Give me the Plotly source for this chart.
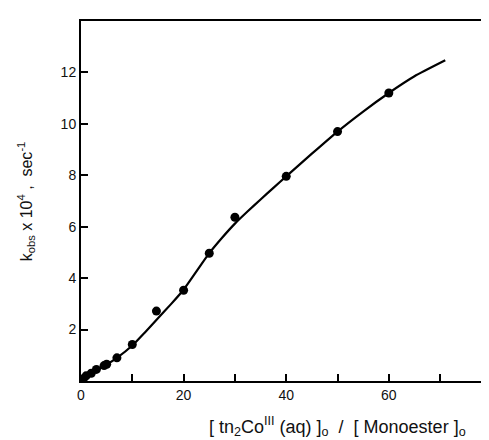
import plotly.graph_objects as go

# Measured points
pt_x = [0.5, 1, 2, 3, 4.5, 5, 7, 10, 14.7, 20, 25, 30, 40, 50, 60]
pt_y = [0.1, 0.2, 0.3, 0.45, 0.6, 0.65, 0.9, 1.42, 2.72, 3.53, 4.97, 6.37, 7.96, 9.7, 11.2]

# Fitted curve
cv_x = [0, 1, 2, 3, 5, 7, 10, 12.5, 15, 17.5, 20, 22.5, 25, 27.5, 30, 32.5, 35, 37.5, 40, 45, 50, 55, 60, 65, 71]
cv_y = [0, 0.17, 0.3, 0.42, 0.64, 0.9, 1.38, 1.9, 2.44, 2.98, 3.55, 4.26, 4.97, 5.57, 6.12, 6.6, 7.06, 7.51, 7.96, 8.84, 9.7, 10.48, 11.2, 11.85, 12.47]

x_tickvals = [0, 10, 20, 30, 40, 50, 60, 70]
x_ticktext = ["0", "", "20", "", "40", "", "60", ""]
y_tickvals = [2, 4, 6, 8, 10, 12]
y_ticktext = ["2", "4", "6", "8", "10", "12"]

fig = go.Figure()
fig.add_trace(go.Scatter(x=cv_x, y=cv_y, mode="lines",
                         line=dict(color="black", width=2.2, shape="spline", smoothing=0.5),
                         hoverinfo="skip", showlegend=False))
fig.add_trace(go.Scatter(x=pt_x, y=pt_y, mode="markers",
                         marker=dict(color="black", size=9),
                         showlegend=False))

font = dict(family="Liberation Sans, Arial, sans-serif", color="#111", size=14)

fig.update_layout(
    width=489, height=440,
    margin=dict(l=73, r=1, t=13, b=67),
    paper_bgcolor="white", plot_bgcolor="white",
    font=font,
    xaxis=dict(range=[0, 80.5], tickvals=x_tickvals, ticktext=x_ticktext,
               ticks="inside", ticklen=7, tickwidth=1.5, tickcolor="black",
               showline=True, linecolor="black", linewidth=2, mirror=True,
               showgrid=False, zeroline=False, tickfont=font),
    yaxis=dict(range=[0, 14], tickvals=y_tickvals, ticktext=y_ticktext,
               ticks="inside", ticklen=7, tickwidth=1.5, tickcolor="black",
               showline=True, linecolor="black", linewidth=2, mirror=True,
               showgrid=False, zeroline=False, tickfont=font),
    annotations=[
        dict(text="k<sub>obs</sub> x 10<sup>4</sup> ,  sec<sup>-1</sup>",
             xref="paper", yref="paper", x=-0.1325, y=0.50, xanchor="center", yanchor="middle",
             textangle=-90,
             showarrow=False, font=dict(family="Liberation Sans, Arial, sans-serif", size=16, color="#111")),
        dict(text="[ tn<sub>2</sub>Co<sup>III</sup> (aq) ]<sub>o</sub>  /  [ Monoester ]<sub>o</sub>",
             xref="paper", yref="paper", x=0.622, y=-0.125, xanchor="center", yanchor="middle",
             showarrow=False, font=dict(family="Liberation Sans, Arial, sans-serif", size=18, color="#111")),
    ],
)

fig.write_html("out.html")
